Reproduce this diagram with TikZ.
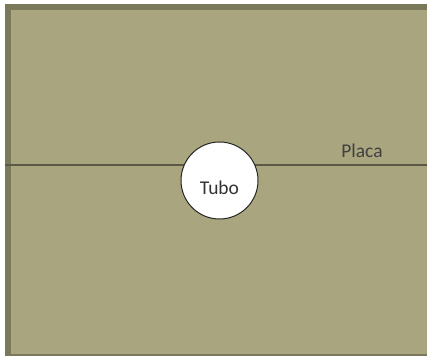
\documentclass[tikz,border=0pt]{standalone}
\usepackage{fontspec}
\setmainfont{Carlito}
\definecolor{placafill}{HTML}{A9A67F}
\definecolor{placaedge}{HTML}{7A795C}
\definecolor{eixo}{HTML}{5A5946}
\tikzset{
    tubo/.style={circle, draw=black!85, line width=1pt, fill=white, minimum size=77pt, inner sep=0pt},
    rotulo/.style={text=black!80, font=\fontsize{19.5}{22}\selectfont, inner sep=0pt, anchor=base}
}

\begin{document}
\begin{tikzpicture}[x=1pt, y=1pt]
        \useasboundingbox[fill=white] (0,0) rectangle (427,355);
        \clip (0,0) rectangle (427,355);
        \draw[line width=6pt, draw=placaedge, fill=placafill] (8,-2) rectangle (440,348);
        \coordinate (w) at (5,190);
        \coordinate (e) at (427,190);
        \draw[line width=1.6pt, eixo] (w) -- (e);
        \node[tubo] (tubo) at (219.5,174.5) {};
        \node[rotulo] (tubotxt) at ([yshift=-14.5pt]tubo.center) {Tubo};
        \node[rotulo, text=black!75] (placa) at (362,197) {Placa};
    \end{tikzpicture}
\end{document}
